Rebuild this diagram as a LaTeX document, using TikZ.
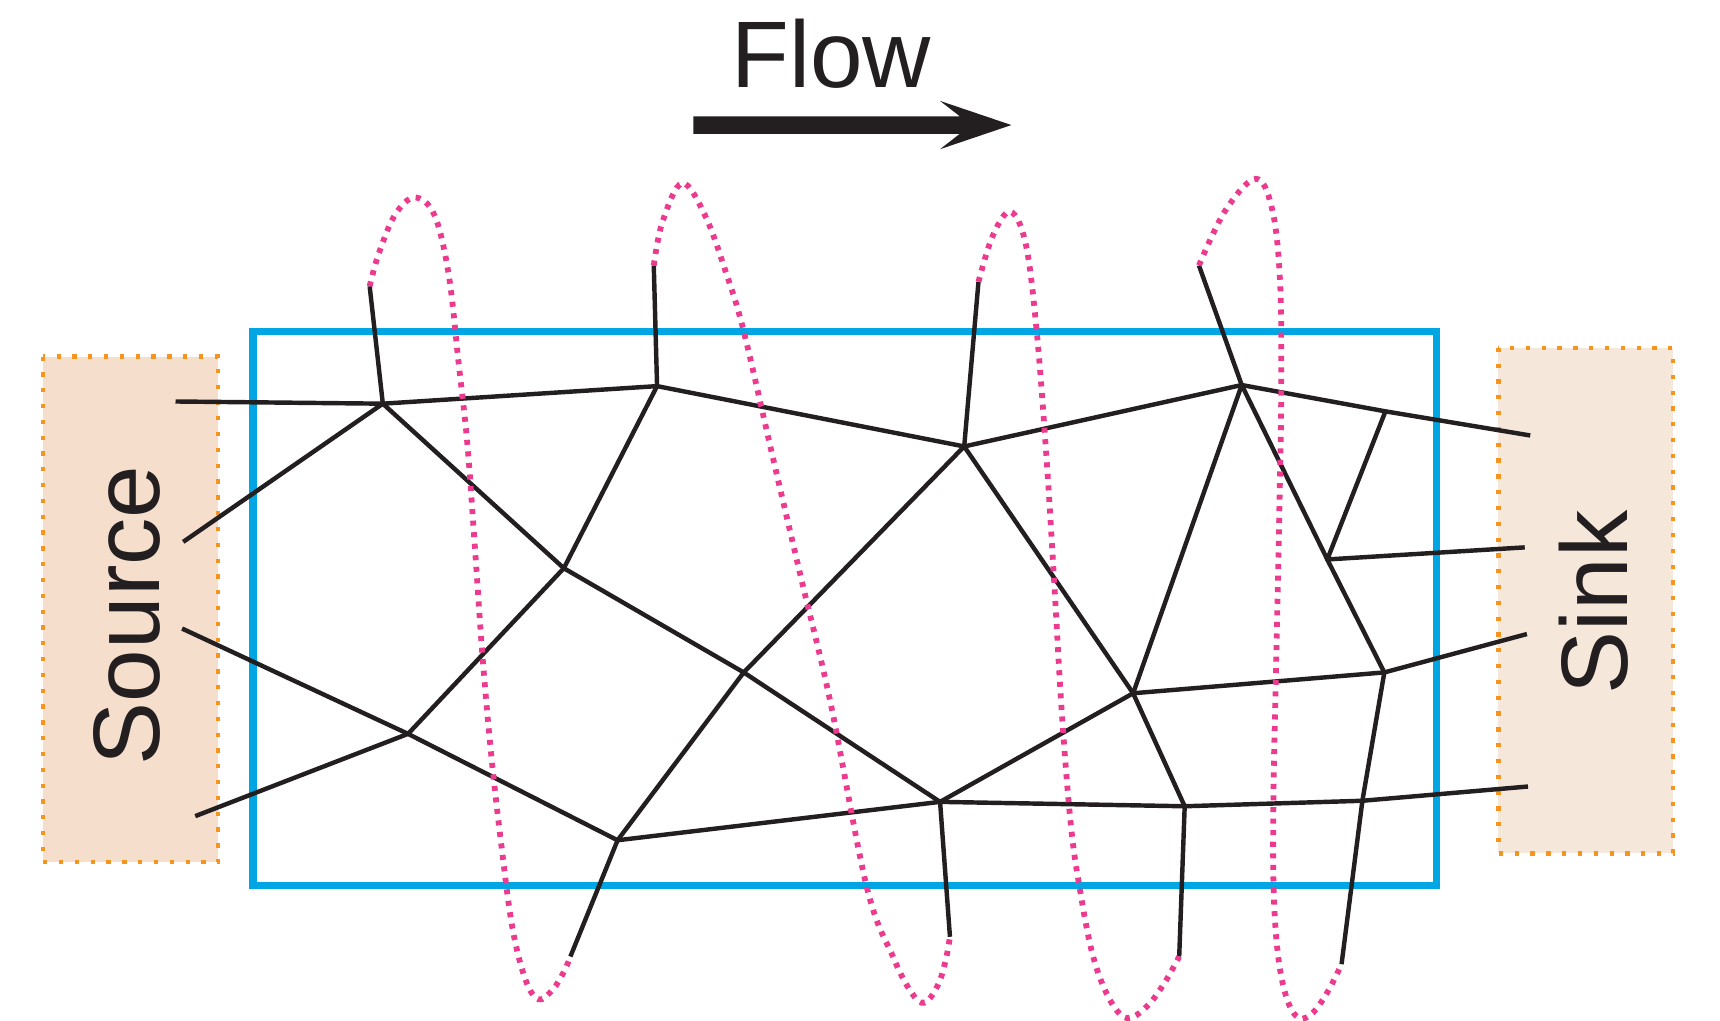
\documentclass[tikz,border=0pt]{standalone}
\usepackage{fontspec}
\setmainfont{Liberation Sans}
\definecolor{ink}{RGB}{35,31,32}
\definecolor{cyanb}{RGB}{0,165,227}
\definecolor{pinkc}{RGB}{236,59,142}
\definecolor{orangec}{RGB}{247,148,29}
\definecolor{srcfill}{RGB}{246,222,205}
\definecolor{snkfill}{RGB}{245,231,218}
\begin{document}
\begin{tikzpicture}[x=0.01cm,y=-0.01cm,
  net/.style={draw=ink,line width=1.15pt,line join=round},
  loopline/.style={draw=pinkc,line width=1.5pt,dash pattern=on 1.3pt off 1.7pt},
  endbox/.style={draw=orangec,line width=1.1pt,dash pattern=on 1.1pt off 3pt},
  bigtext/.style={text=ink,font=\fontsize{24.5}{29}\selectfont,inner sep=0pt}]
\useasboundingbox (0,0) rectangle (1568,930);
% end boxes
\path[fill=srcfill,endbox] (39,325) rectangle (199,786);
\path[fill=snkfill,endbox] (1366,317) rectangle (1525,778);
\node[bigtext,rotate=90,anchor=base] (src) at (145,561) {Source};
\node[bigtext,rotate=90,anchor=base] (snk) at (1484,549) {Sink};
% flow label and arrow
\node[bigtext,anchor=base] (flow) at (758,80) {Flow};
\coordinate (fa0) at (632,106);
\fill[ink] (fa0) -- (875,106) -- (857,92) -- (922,114) -- (857,136) -- (875,122) -- (632,122) -- cycle;
% blue domain
\draw[cyanb,line width=1.9pt] (230.5,302.5) rectangle (1309.5,807.5);
% junctions
\coordinate (A) at (349,368);
\coordinate (B) at (599,352);
\coordinate (C) at (514,518);
\coordinate (D) at (879,407);
\coordinate (E) at (372,669);
\coordinate (F) at (678,613);
\coordinate (G) at (563,766);
\coordinate (H) at (857,731);
\coordinate (I) at (1132,351);
\coordinate (J) at (1263,375);
\coordinate (K) at (1210,510);
\coordinate (L) at (1033,632);
\coordinate (M) at (1262,613);
\coordinate (N) at (1080,735);
\coordinate (O) at (1242,730);
% free ends
\coordinate (s1) at (160,366);
\coordinate (s2) at (167,494);
\coordinate (s3) at (166,573);
\coordinate (s4) at (178,744);
\coordinate (t1) at (1395,397);
\coordinate (t2) at (1390,499);
\coordinate (t3) at (1392,578);
\coordinate (t4) at (1393,717);
\coordinate (a1) at (337,261);
\coordinate (b1) at (596,242);
\coordinate (d1) at (892,257);
\coordinate (i1) at (1093,242);
\coordinate (g1) at (520,872);
\coordinate (h1) at (866,854);
\coordinate (n1) at (1075,872);
\coordinate (o1) at (1223,879);
% network
\draw[net] (s1) -- (A) -- (B) -- (D) -- (I) -- (J) -- (t1);
\draw[net] (s2) -- (A) -- (C) -- (F) -- (H) -- (N) -- (O) -- (t4);
\draw[net] (s3) -- (E) -- (G) -- (H);
\draw[net] (s4) -- (E) -- (C) -- (B) -- (b1);
\draw[net] (a1) -- (A);
\draw[net] (d1) -- (D) -- (F) -- (G) -- (g1);
\draw[net] (D) -- (L) -- (N) -- (n1);
\draw[net] (H) -- (L) -- (M) -- (t3);
\draw[net] (H) -- (h1);
\draw[net] (i1) -- (I) -- (K) -- (M) -- (O) -- (o1);
\draw[net] (I) -- (L);
\draw[net] (J) -- (K) -- (t2);
% pink loops
\draw[loopline] plot[smooth,tension=0.6] coordinates {(a1) (345,232) (360,196) (378,180) (396,196) (409,250) (418,330) (426,404) (433,500) (440,600) (448,690) (457,770) (467,845) (479,893) (491,911) (504,902) (514,886) (g1)};
\draw[loopline] plot[smooth,tension=0.6] coordinates {(b1) (604,202) (622,167) (643,197) (662,249) (678,302) (705,419) (731,530) (757,640) (790,808) (814,872) (831,905) (843,914) (855,898) (862,876) (h1)};
\draw[loopline] plot[smooth,tension=0.6] coordinates {(d1) (905,215) (921,193) (935,222) (945,301) (954,417) (961,530) (968,650) (976,750) (984,808) (996,870) (1011,910) (1027,928) (1045,918) (1061,897) (n1)};
\draw[loopline] plot[smooth,tension=0.6] coordinates {(i1) (1117,192) (1145,163) (1160,192) (1167,258) (1168,358) (1166,480) (1163,620) (1161,720) (1161,808) (1165,870) (1173,910) (1184,928) (1197,923) (1211,903) (o1)};
\end{tikzpicture}
\end{document}
